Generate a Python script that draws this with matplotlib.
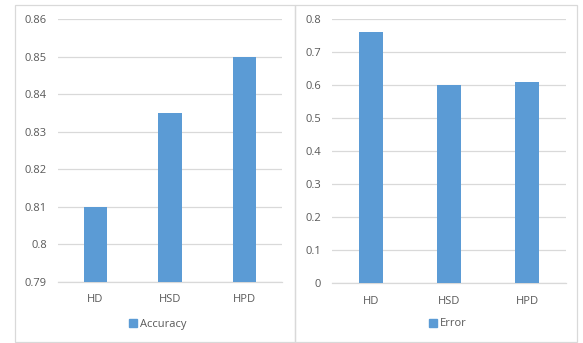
import matplotlib
matplotlib.use("Agg")
import matplotlib.pyplot as plt
from matplotlib.patches import Rectangle, Patch

categories = ["HD", "HSD", "HPD"]
accuracy = [0.81, 0.835, 0.85]
error = [0.76, 0.60, 0.61]
acc_ticks = [0.79, 0.80, 0.81, 0.82, 0.83, 0.84, 0.85, 0.86]
acc_labels = ["0.79", "0.8", "0.81", "0.82", "0.83", "0.84", "0.85", "0.86"]
err_ticks = [0, 0.1, 0.2, 0.3, 0.4, 0.5, 0.6, 0.7, 0.8]
err_labels = ["0", "0.1", "0.2", "0.3", "0.4", "0.5", "0.6", "0.7", "0.8"]

W, H = 583, 343
BAR = "#5B9BD5"
GRID = "#D9D9D9"
TXT = "#595959"
plt.rcParams['font.family'] = ['Open Sans', 'DejaVu Sans']

fig = plt.figure(figsize=(W / 100, H / 100), dpi=100)

def fx(px):
    return px / W

def fy(py):
    return 1 - py / H

# panel borders
for (x0, x1) in [(15, 295), (295, 577)]:
    fig.add_artist(Rectangle((fx(x0), fy(342)), fx(x1) - fx(x0), fy(5) - fy(342),
                             transform=fig.transFigure, fill=False,
                             edgecolor="#D9D9D9", linewidth=0.9))

def panel(left, right, top, bottom, values, ticks, labels, ylim, name, legx):
    ax = fig.add_axes([fx(left), fy(bottom), fx(right) - fx(left), fy(top) - fy(bottom)])
    x = range(len(categories))
    ax.bar(x, values, width=0.31, color=BAR, zorder=3)
    ax.set_xlim(-0.5, len(categories) - 0.5)
    ax.set_ylim(*ylim)
    ax.set_yticks(ticks)
    ax.set_yticklabels(labels)
    ax.set_xticks(list(x))
    ax.set_xticklabels(categories)
    ax.yaxis.grid(True, color=GRID, linewidth=0.9, zorder=0)
    for s in ["top", "right", "left"]:
        ax.spines[s].set_visible(False)
    ax.spines["bottom"].set_color(GRID)
    ax.spines["bottom"].set_linewidth(0.9)
    ax.tick_params(axis="both", length=0, colors=TXT, labelsize=8)
    ax.tick_params(axis="y", pad=8)
    ax.tick_params(axis="x", pad=9)
    fig.legend(handles=[Patch(color=BAR, label=name)], loc="center",
               bbox_to_anchor=(fx(legx), fy(324)), frameon=False, fontsize=8,
               labelcolor=TXT, handlelength=0.7, handleheight=0.7, handletextpad=0.3)
    return ax

panel(58, 282, 19, 282, accuracy, acc_ticks, acc_labels, (0.79, 0.86), "Accuracy", 158)
panel(332, 566, 19, 283, error, err_ticks, err_labels, (0, 0.8), "Error", 448)

fig.savefig("out.png", dpi=100)
